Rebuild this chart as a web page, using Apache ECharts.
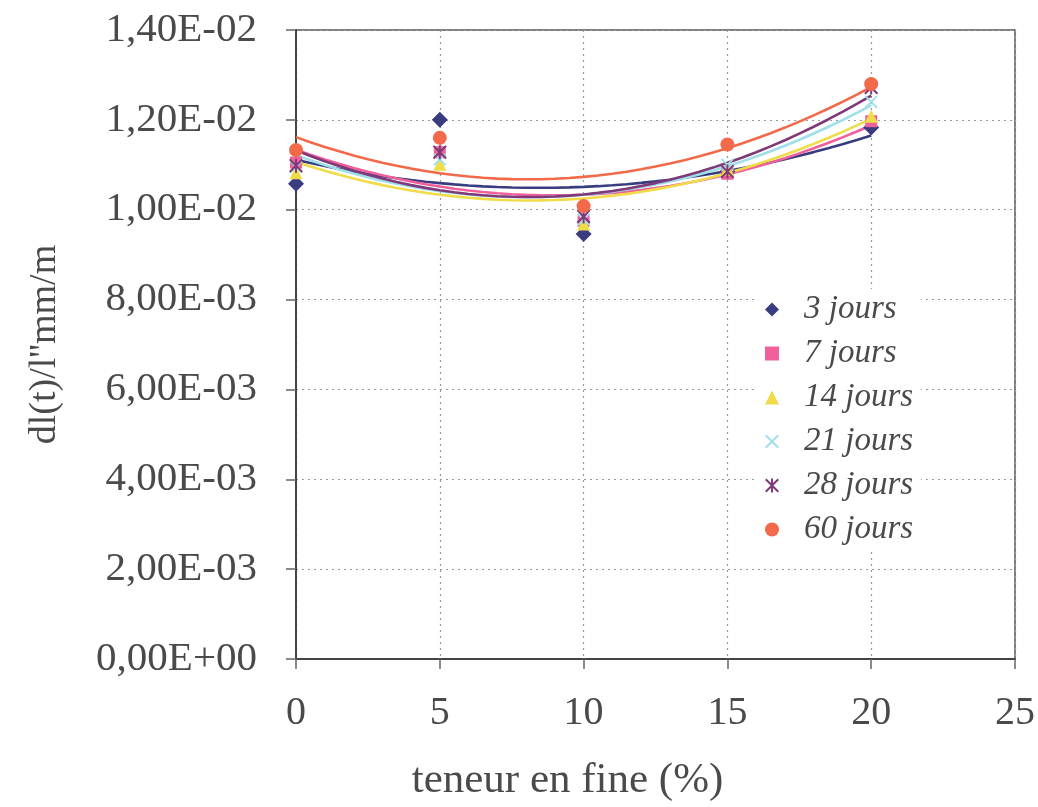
<!DOCTYPE html>
<html>
<head>
<meta charset="utf-8">
<script src="https://cdn.jsdelivr.net/npm/echarts@6/dist/echarts.min.js"></script>
<style>
html,body{margin:0;padding:0;background:#fff;}
#chart{width:1038px;height:807px;}
</style>
</head>
<body>
<div id="chart"></div>
<script>
// ---- data ----
const xValues = [0, 5, 10, 15, 20];           // teneur en fine (%)
const seriesNames = ['3 jours', '7 jours', '14 jours', '21 jours', '28 jours', '60 jours'];
const jours3  = [0.01058, 0.01200, 0.00946, 0.01085, 0.01183];
const jours7  = [0.01105, 0.01128, 0.00975, 0.01080, 0.01197];
const jours14 = [0.01082, 0.01101, 0.00968, 0.01090, 0.01208];
const jours21 = [0.01095, 0.01112, 0.00978, 0.01100, 0.01240];
const jours28 = [0.01098, 0.01128, 0.00985, 0.01085, 0.01272];
const jours60 = [0.01133, 0.01160, 0.01008, 0.01145, 0.01280];
const xTicks = [0, 5, 10, 15, 20, 25];
const yTicks = [0, 0.002, 0.004, 0.006, 0.008, 0.010, 0.012, 0.014];

const allValues = [jours3, jours7, jours14, jours21, jours28, jours60];
const colors = ['#3a3c80', '#f0609a', '#f0dc48', '#9fdfea', '#7e3a78', '#f26a4a'];
const crossPath = 'path://M1,0L5,4L9,0L10,1L6,5L10,9L9,10L5,6L1,10L0,9L4,5L0,1Z';
const starPath = 'path://M1,0L5,4L9,0L10,1L6,5L10,9L9,10L5,6L1,10L0,9L4,5L0,1Z M4.3,0L5.7,0L5.7,10L4.3,10Z';
const symbols = ['diamond', 'rect', 'triangle', crossPath, starPath, 'circle'];
const symbolSizes = [16, 12, 13, 13, 14, 14];

// Excel-style polynomial (order 2) trendline from the data points
function quadFit(xs, ys) {
  let n = xs.length, s = [0,0,0,0,0], t = [0,0,0];
  for (let i = 0; i < n; i++) {
    let p = 1;
    for (let k = 0; k < 5; k++) { s[k] += p; if (k < 3) t[k] += p * ys[i]; p *= xs[i]; }
  }
  const A = [[s[0], s[1], s[2], t[0]], [s[1], s[2], s[3], t[1]], [s[2], s[3], s[4], t[2]]];
  for (let c = 0; c < 3; c++) {
    for (let r = c + 1; r < 3; r++) {
      const f = A[r][c] / A[c][c];
      for (let k = c; k < 4; k++) A[r][k] -= f * A[c][k];
    }
  }
  const b = [0,0,0];
  for (let r = 2; r >= 0; r--) {
    let v = A[r][3];
    for (let k = r + 1; k < 3; k++) v -= A[r][k] * b[k];
    b[r] = v / A[r][r];
  }
  return x => b[0] + b[1] * x + b[2] * x * x;
}

function fmtE(v) {
  if (Math.abs(v) < 1e-12) return '0,00E+00';
  let e = Math.floor(Math.log10(Math.abs(v)) + 1e-9);
  let m = v / Math.pow(10, e);
  if (Math.abs(m) >= 9.995) { m /= 10; e += 1; }
  return m.toFixed(2).replace('.', ',') + 'E' + (e < 0 ? '-' : '+') + String(Math.abs(e)).padStart(2, '0');
}

const FONT = "'Liberation Serif', 'Times New Roman', serif";
const series = [];
seriesNames.forEach((name, i) => {
  const f = quadFit(xValues, allValues[i]);
  const pts = [];
  for (let x = xValues[0]; x <= xValues[xValues.length - 1] + 1e-9; x += 0.5) pts.push([x, f(x)]);
  series.push({
    name: name + ' (tendance)',
    type: 'line',
    data: pts,
    showSymbol: false,
    symbol: 'none',
    smooth: false,
    lineStyle: { color: colors[i], width: 2.6 },
    itemStyle: { color: colors[i] },
    silent: true,
    z: 3
  });
});
seriesNames.forEach((name, i) => {
  series.push({
    name: name,
    type: 'scatter',
    data: xValues.map((x, j) => [x, allValues[i][j]]),
    symbol: symbols[i],
    symbolSize: symbolSizes[i],
    itemStyle: { color: colors[i], opacity: 1 },
    z: 4
  });
});

const chart = echarts.init(document.getElementById('chart'), null, { renderer: 'canvas' });
chart.setOption({
  animation: false,
  backgroundColor: '#ffffff',
  grid: { left: 296, right: 23, top: 30, bottom: 145, show: true, borderColor: '#555', borderWidth: 1.5, backgroundColor: 'transparent' },
  xAxis: {
    type: 'value', min: xTicks[0], max: xTicks[xTicks.length - 1], interval: 5,
    name: 'teneur en fine (%)', nameLocation: 'middle', nameGap: 100,
    nameTextStyle: { fontFamily: FONT, fontSize: 43, color: '#4a4a4a', padding: [0, 176, 0, 0] },
    axisLine: { show: true, onZero: false, lineStyle: { color: '#444', width: 2 } },
    axisTick: { show: true, inside: false, length: 10, lineStyle: { color: '#666', width: 1.5 } },
    axisLabel: { fontFamily: FONT, fontSize: 40, color: '#4a4a4a', margin: 34 },
    splitLine: { show: true, lineStyle: { color: '#9a9a9a', type: [2, 4], width: 1.2 } }
  },
  yAxis: {
    type: 'value', min: yTicks[0], max: yTicks[yTicks.length - 1], interval: 0.002,
    name: "dl(t)/l''mm/m", nameLocation: 'middle', nameGap: 232,
    nameTextStyle: { fontFamily: FONT, fontSize: 38, color: '#4a4a4a' },
    axisLine: { show: true, lineStyle: { color: '#444', width: 2 } },
    axisTick: { show: true, inside: false, length: 10, lineStyle: { color: '#666', width: 1.5 } },
    axisLabel: { fontFamily: FONT, fontSize: 41, color: '#4a4a4a', margin: 39, formatter: fmtE },
    splitLine: { show: true, lineStyle: { color: '#9a9a9a', type: [2, 4], width: 1.2 } }
  },
  legend: {
    data: seriesNames,
    orient: 'vertical',
    left: 757, top: 289,
    padding: [4, 8, 4, 8],
    itemGap: 11,
    itemWidth: 14, itemHeight: 14,
    backgroundColor: '#ffffff',
    textStyle: { fontFamily: FONT, fontSize: 33, fontStyle: 'italic', color: '#4a4a4a', lineHeight: 33, padding: [0, 0, 0, 20] }
  },
  series: series
});
</script>
</body>
</html>
